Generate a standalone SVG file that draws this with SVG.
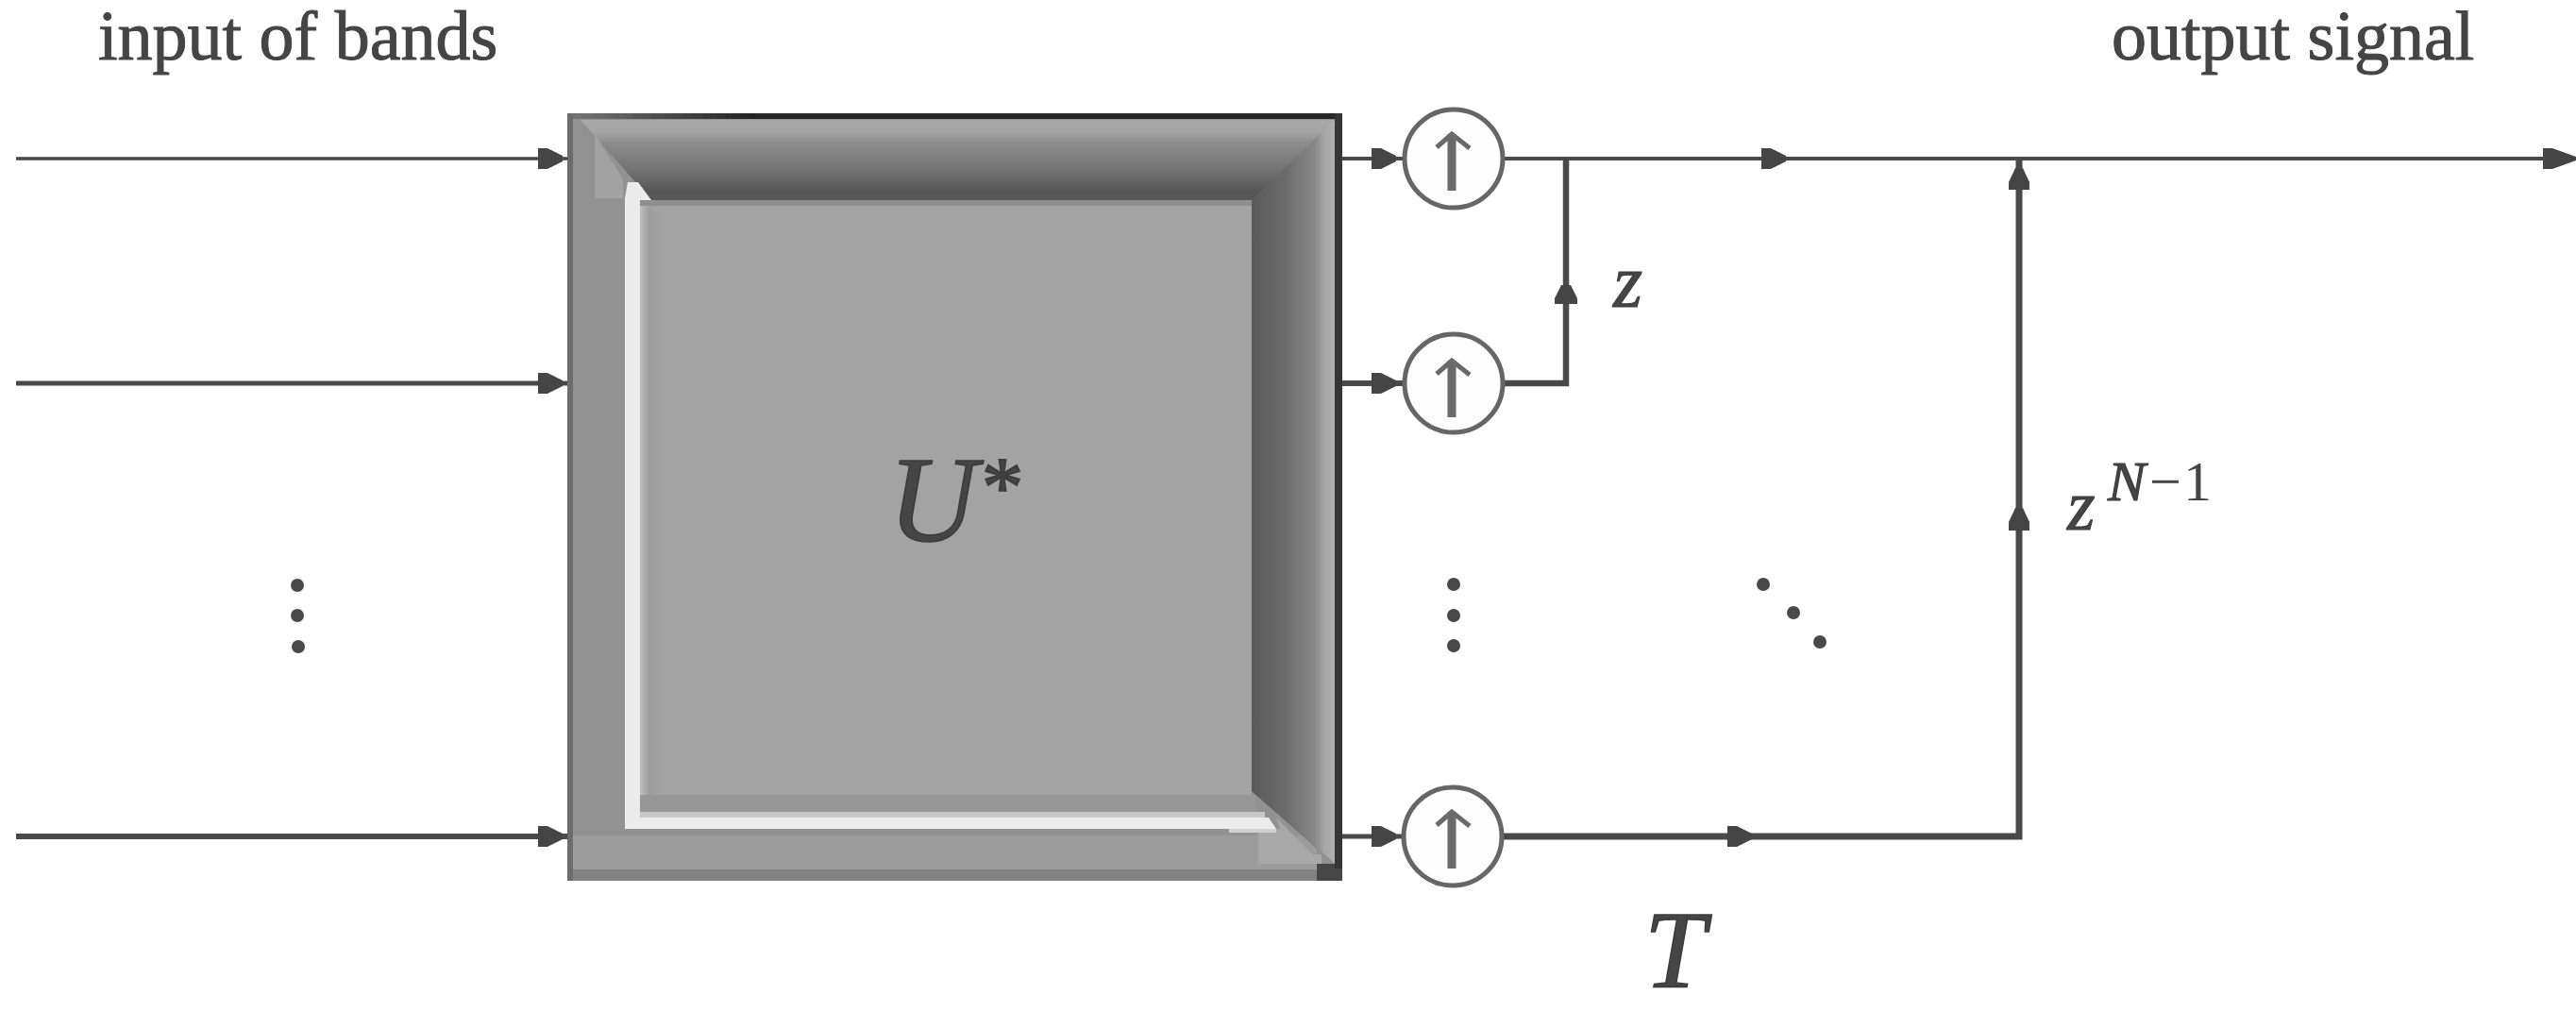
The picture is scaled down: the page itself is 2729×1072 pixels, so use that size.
<svg xmlns="http://www.w3.org/2000/svg" width="2729" height="1072" viewBox="0 0 2729 1072">
  <style>
    text { font-family: "Liberation Serif", "Times New Roman", serif; fill: #444; }
    .label { font-size: 74px; stroke: #444; stroke-width: 1; }
    .math { font-style: italic; stroke: #3c3c3c; stroke-width: 1.6; }
    .wire { fill: none; stroke: #484848; stroke-linecap: butt; stroke-linejoin: miter; }
    .ring { fill: #fdfdfd; stroke: #666; stroke-width: 5; }
    .up { fill: none; stroke: #6a6a6a; }
    .head { fill: #454545; }
    .dot { fill: #4a4a4a; }
  </style>
  <defs>
    <linearGradient id="gTop" x1="0" y1="127" x2="0" y2="212" gradientUnits="userSpaceOnUse">
      <stop offset="0" stop-color="#a8a8a8"/><stop offset="0.15" stop-color="#a4a4a4"/><stop offset="0.3" stop-color="#8c8c8c"/><stop offset="0.65" stop-color="#707070"/><stop offset="0.9" stop-color="#555"/><stop offset="1" stop-color="#585858"/>
    </linearGradient>
    <linearGradient id="gRight" x1="1326" y1="0" x2="1415" y2="0" gradientUnits="userSpaceOnUse">
      <stop offset="0" stop-color="#595959"/><stop offset="0.4" stop-color="#6c6c6c"/><stop offset="0.75" stop-color="#888"/><stop offset="0.86" stop-color="#a6a6a6"/><stop offset="1" stop-color="#b0b0b0"/>
    </linearGradient>
    <linearGradient id="gEdge" x1="601" y1="0" x2="800" y2="0" gradientUnits="userSpaceOnUse">
      <stop offset="0" stop-color="#777"/><stop offset="1" stop-color="#222"/>
    </linearGradient>
    <linearGradient id="gInnerL" x1="678" y1="0" x2="700" y2="0" gradientUnits="userSpaceOnUse">
      <stop offset="0" stop-color="#c0c0c0"/><stop offset="0.45" stop-color="#9d9d9d"/><stop offset="1" stop-color="#a3a3a3"/>
    </linearGradient>
    <filter id="soft" x="-2%" y="-2%" width="104%" height="104%"><feGaussianBlur stdDeviation="0.7"/></filter>
    <path id="ah" class="head" d="M0 -11 L10 -11 L26 -3 L26 3 L10 11 L0 11 Z"/>
  </defs>
  <rect width="2729" height="1072" fill="#ffffff"/>

  <g filter="url(#soft)">
  <g id="connectors">
    <path class="wire" stroke-width="3.5" d="M17 168 H601"/>
    <path class="wire" stroke-width="5" d="M17 406 H601"/>
    <path class="wire" stroke="#333" stroke-width="6" d="M17 886 H601"/>
    <path class="wire" stroke-width="4" d="M1421 168 H1490"/>
    <path class="wire" stroke-width="6" d="M1421 406 H1490"/>
    <path class="wire" stroke-width="5" d="M1421 886 H1490"/>
    <path class="wire" stroke-width="4" d="M1590 168 H2700"/>
    <path class="wire" stroke-width="6.5" d="M1590 406 H1659 V168"/>
    <path class="wire" stroke-width="7" d="M1590 886 H2139 V168"/>
    <use href="#ah" x="570" y="168"/>
    <use href="#ah" x="570" y="406"/>
    <use href="#ah" x="570" y="886"/>
    <use href="#ah" x="1453" y="168"/>
    <use href="#ah" x="1453" y="406"/>
    <use href="#ah" x="1453" y="886"/>
    <use href="#ah" x="1830" y="886"/>
    <use href="#ah" x="1866" y="168"/>
    <path class="head" d="M2694 157 L2704 157 L2729 166 L2729 170 L2704 179 L2694 179 Z"/>
    <path class="head" d="M1647 322 L1647 316 L1654 302 L1664 302 L1671 316 L1671 322 Z"/>
    <path class="head" d="M2128 201 L2128 193 L2135 178 L2143 178 L2150 193 L2150 201 Z"/>
    <path class="head" d="M2128 562 L2128 553 L2135 538 L2143 538 L2150 553 L2150 562 Z"/>
  </g>

  <g id="matrix-u">
    <rect x="601" y="120" width="821" height="813" fill="#929292"/>
    <rect x="607" y="885" width="788" height="36" fill="#9c9c9c"/>
    <path d="M615 127 H1414 V915 L1326 838 V212 H690 Z" fill="url(#gTop)"/>
    <path d="M1326 212 L1414 127 V915 L1326 838 Z" fill="url(#gRight)"/>
    <path d="M630 142 L660 190 V210 H630 Z" fill="#a2a2a2"/>
    <rect x="678" y="212" width="648" height="648" fill="#a3a3a3"/>
    <rect x="678" y="212" width="648" height="6" fill="#8e8e8e"/>
    <rect x="678" y="218" width="22" height="642" fill="url(#gInnerL)"/>
    <rect x="678" y="842" width="652" height="18" fill="#979797"/>
    <rect x="678" y="860" width="662" height="6" fill="#c8c8c8"/>
    <path d="M665 193 L676 193 L690 212 H678 V866 H1344 L1352 878 H662 V210 Z" fill="#ececec"/>
    <path d="M1333 880 L1356 878 L1352 866 L1390 905 L1400 905 V915 H1333 Z" fill="#a8a8a8"/>
    <path d="M1302 878 H1352 V882 H1302 Z" fill="#d0d0d0"/>
    <rect x="601" y="921" width="794" height="12" fill="#828282"/>
    <rect x="1395" y="915" width="27" height="18" fill="#464646"/>
    <rect x="601" y="120" width="800" height="6" fill="url(#gEdge)"/>
    <rect x="800" y="120" width="622" height="6" fill="#252525"/>
    <rect x="1414" y="120" width="8" height="800" fill="#363636"/>
    <rect x="601" y="120" width="6" height="813" fill="#6c6c6c"/>
    <text class="math" x="941" y="573" font-size="130">U</text>
    <text x="1040" y="545" font-size="88" stroke="#3c3c3c" stroke-width="2">*</text>
  </g>

  <g id="up-1">
    <circle class="ring" cx="1540" cy="168" r="52"/>
    <path class="up" stroke-width="9" d="M1538 202 V142"/>
    <path class="up" stroke-width="5" d="M1522 156 L1538 142 L1557 157"/>
  </g>
  <g id="up-2">
    <circle class="ring" cx="1540" cy="406" r="52"/>
    <path class="up" stroke-width="9" d="M1538 442 V382"/>
    <path class="up" stroke-width="5" d="M1522 396 L1538 382 L1557 397"/>
  </g>
  <g id="up-3">
    <circle class="ring" cx="1539" cy="886" r="52"/>
    <path class="up" stroke-width="9" d="M1538 920 V860"/>
    <path class="up" stroke-width="5" d="M1522 874 L1538 860 L1557 875"/>
  </g>

  <g id="dots-input">
    <circle class="dot" cx="315" cy="620" r="7"/>
    <circle class="dot" cx="315" cy="652" r="7"/>
    <circle class="dot" cx="316" cy="685" r="7"/>
  </g>
  <g id="dots-middle">
    <circle class="dot" cx="1540" cy="619" r="7"/>
    <circle class="dot" cx="1540" cy="652" r="7"/>
    <circle class="dot" cx="1540" cy="684" r="7"/>
  </g>
  <g id="dots-diagonal">
    <circle class="dot" cx="1868" cy="619" r="7"/>
    <circle class="dot" cx="1900" cy="649" r="7"/>
    <circle class="dot" cx="1928" cy="680" r="7"/>
  </g>

  <g id="labels">
    <text class="label" x="104" y="63">input of bands</text>
    <text class="label" x="2237" y="63">output signal</text>
    <text class="math" x="1709" y="325" font-size="80" style="stroke-width:1">z</text>
    <text class="math" x="2190" y="561" font-size="76" style="stroke-width:1">z</text>
    <text x="2233" y="530" font-size="60"><tspan class="math" style="stroke-width:1.2">N</tspan><tspan dx="4">−</tspan><tspan dx="2">1</tspan></text>
    <text class="math" x="1742" y="1046" font-size="116">T</text>
  </g>
  </g>
</svg>
